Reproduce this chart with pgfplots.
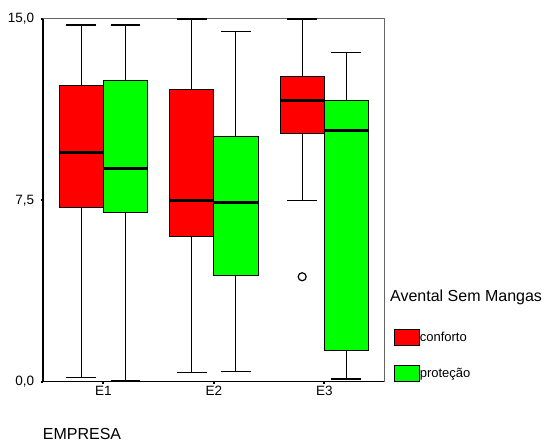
\documentclass[border=0pt]{standalone}
\usepackage{pgfplots}
\pgfplotsset{compat=1.18}
\usepgfplotslibrary{statistics}
\usepackage{fontspec}
\setmainfont{Liberation Sans}
\definecolor{boxred}{RGB}{255,0,0}
\definecolor{boxgreen}{RGB}{0,255,0}
\begin{document}
\begin{tikzpicture}
\useasboundingbox (-42.7bp,-61.3bp) rectangle (507.3bp,381.7bp);
\begin{axis}[
  at={(0,0)}, anchor=south west,
  scale only axis, width=342.3bp, height=362.7bp,
  xmin=0.45, xmax=3.55, ymin=0, ymax=15,
  xtick={1,2,3}, xticklabels={E1,E2,E3},
  ytick={0,7.5,15},
  yticklabel style={xshift=-3bp, /pgf/number format/.cd, fixed, fixed zerofill, precision=1, use comma},
  /pgf/number format/assume math mode=true,
  axis x line*=bottom, axis y line*=left,
  axis line style={-},
  x axis line style={line width=1.2bp},
  y axis line style={line width=2bp},
  tick style={black, line width=2bp}, major tick length=2bp, tick align=outside,
  ticklabel style={font=\fontsize{13.5bp}{15bp}\selectfont},
  xticklabel style={yshift=1bp},
  clip=false,
  boxplot/draw direction=y,
  boxplot/every box/.style={draw=black, line width=1bp},
  boxplot/every whisker/.style={black, line width=1.1bp},
  boxplot/every median/.style={black, line width=3bp},
  legend style={at={(axis description cs:1.0263,0.1453)}, anchor=north west,
    draw=none, fill=none, inner sep=0pt, outer sep=0pt, row sep=19bp,
    font=\fontsize{13bp}{15bp}\selectfont,
    nodes={inner sep=0pt, anchor=west},
    /tikz/every even column/.append style={column sep=1bp}},
  legend cell align=left,
]
\draw[black!60, line width=1bp] (rel axis cs:0,1) -- (rel axis cs:1,1) -- (rel axis cs:1,0);
% E1
\addplot[boxplot prepared={draw position=0.8, box extend=0.4, whisker extend=0.27,
  lower whisker=0.17, lower quartile=7.19, median=9.46, upper quartile=12.26, upper whisker=14.75},
  fill=boxred, draw=black, forget plot] coordinates {};
\addplot[boxplot prepared={draw position=1.2, box extend=0.4, whisker extend=0.27,
  lower whisker=0.06, lower quartile=7.0, median=8.82, upper quartile=12.45, upper whisker=14.75},
  fill=boxgreen, draw=black, forget plot] coordinates {};
% E2
\addplot[boxplot prepared={draw position=1.8, box extend=0.4, whisker extend=0.27,
  lower whisker=0.37, lower quartile=6.02, median=7.49, upper quartile=12.07, upper whisker=15.0},
  fill=boxred, draw=black, forget plot] coordinates {};
\addplot[boxplot prepared={draw position=2.2, box extend=0.4, whisker extend=0.27,
  lower whisker=0.41, lower quartile=4.38, median=7.40, upper quartile=10.12, upper whisker=14.5},
  fill=boxgreen, draw=black, forget plot] coordinates {};
% E3
\addplot[boxplot prepared={draw position=2.8, box extend=0.4, whisker extend=0.27,
  lower whisker=7.5, lower quartile=10.26, median=11.61, upper quartile=12.64, upper whisker=15.0},
  fill=boxred, draw=black, mark=o, mark size=4bp, mark options={black, line width=1.2bp, fill=none}, forget plot] coordinates {(0,4.34)};
\addplot[boxplot prepared={draw position=3.2, box extend=0.4, whisker extend=0.27,
  lower whisker=0.11, lower quartile=1.31, median=10.40, upper quartile=11.61, upper whisker=13.6},
  fill=boxgreen, draw=black, forget plot] coordinates {};
\addlegendimage{legend image code/.code={\draw[black, line width=0.8bp, fill=boxred] (0bp,-8bp) rectangle (25bp,8bp);}}
\addlegendentry{conforto}
\addlegendimage{legend image code/.code={\draw[black, line width=0.8bp, fill=boxgreen] (0bp,-8bp) rectangle (25bp,8bp);}}
\addlegendentry{proteção}
\node[anchor=west, inner sep=0pt, font=\fontsize{16bp}{18bp}\selectfont] at (axis description cs:1.0146,0.2335) {Avental Sem Mangas};
\node[anchor=west, inner sep=0pt, font=\fontsize{16bp}{18bp}\selectfont] at (axis description cs:0,-0.143) {EMPRESA};
\end{axis}
\end{tikzpicture}
\end{document}
